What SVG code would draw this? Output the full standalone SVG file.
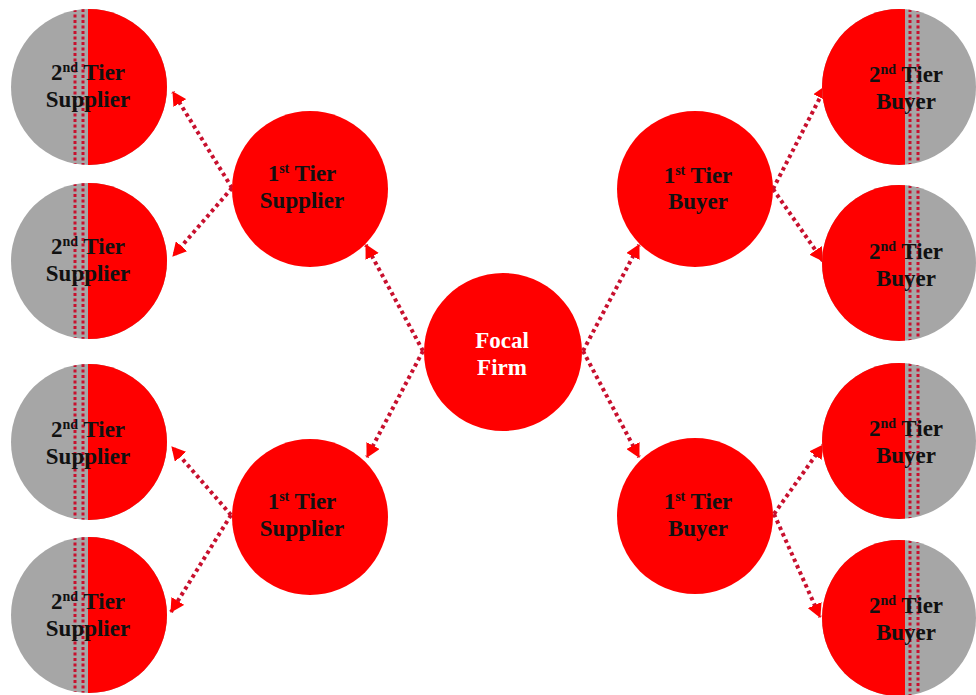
<svg xmlns="http://www.w3.org/2000/svg" width="976" height="695" viewBox="0 0 976 695">
<style>
.red{fill:#ff0000}
.gray{fill:#a6a6a6}
.vdot{stroke:#c8102e;stroke-width:3;stroke-dasharray:3 2.5;fill:none}
.lbl{font-family:"Liberation Serif","Times New Roman",serif;font-weight:bold;font-size:23px;fill:#111;text-anchor:middle}
.wht{fill:#ffffff}
.sup{font-size:14px}
.conn{stroke:#c8102e;stroke-width:4;stroke-dasharray:3.5 3.5;fill:none;marker-end:url(#ah)}
</style>
<defs>
<clipPath id="circ" clipPathUnits="objectBoundingBox"><circle cx="0.5" cy="0.5" r="0.5"/></clipPath>
<marker id="ah" markerUnits="userSpaceOnUse" markerWidth="15" markerHeight="15" viewBox="0 0 15 15" refX="13" refY="7.5" orient="auto"><path d="M0,0 L14,7.5 L0,15 Z" fill="#ff0000"/></marker>
</defs>
<rect width="976" height="695" fill="#ffffff"/>

<g id="connectors">
<line class="conn" x1="232" y1="188" x2="173" y2="92"/>
<line class="conn" x1="232" y1="188" x2="173" y2="256"/>
<line class="conn" x1="423" y1="351" x2="366" y2="245"/>
<line class="conn" x1="423" y1="351" x2="367" y2="457"/>
<line class="conn" x1="583" y1="351" x2="639" y2="245"/>
<line class="conn" x1="583" y1="351" x2="639" y2="457"/>
<line class="conn" x1="773" y1="189" x2="826" y2="86"/>
<line class="conn" x1="773" y1="189" x2="823" y2="261"/>
<line class="conn" x1="231" y1="515" x2="172" y2="447"/>
<line class="conn" x1="231" y1="515" x2="171" y2="612"/>
<line class="conn" x1="774" y1="514" x2="823" y2="445"/>
<line class="conn" x1="774" y1="514" x2="820" y2="617"/>
</g>

<g id="supplier2-1">
<g clip-path="url(#circ)">
<rect class="gray" x="11" y="9" width="156" height="156"/>
<rect class="red" x="88" y="9" width="79" height="156"/>
<line class="vdot" x1="75" y1="9" x2="75" y2="165"/>
<line class="vdot" x1="83" y1="9" x2="83" y2="165"/>
</g>
<text class="lbl" x="88" y="80">2<tspan class="sup" dy="-8">nd</tspan><tspan dy="8"> Tier</tspan></text>
<text class="lbl" x="88" y="107">Supplier</text>
</g>

<g id="supplier2-2">
<g clip-path="url(#circ)">
<rect class="gray" x="11" y="183" width="156" height="156"/>
<rect class="red" x="88" y="183" width="79" height="156"/>
<line class="vdot" x1="75" y1="183" x2="75" y2="339"/>
<line class="vdot" x1="83" y1="183" x2="83" y2="339"/>
</g>
<text class="lbl" x="88" y="254">2<tspan class="sup" dy="-8">nd</tspan><tspan dy="8"> Tier</tspan></text>
<text class="lbl" x="88" y="281">Supplier</text>
</g>

<g id="supplier2-3">
<g clip-path="url(#circ)">
<rect class="gray" x="11" y="364" width="156" height="156"/>
<rect class="red" x="88" y="364" width="79" height="156"/>
<line class="vdot" x1="75" y1="364" x2="75" y2="520"/>
<line class="vdot" x1="83" y1="364" x2="83" y2="520"/>
</g>
<text class="lbl" x="88" y="437">2<tspan class="sup" dy="-8">nd</tspan><tspan dy="8"> Tier</tspan></text>
<text class="lbl" x="88" y="464">Supplier</text>
</g>

<g id="supplier2-4">
<g clip-path="url(#circ)">
<rect class="gray" x="11" y="537" width="156" height="156"/>
<rect class="red" x="88" y="537" width="79" height="156"/>
<line class="vdot" x1="75" y1="537" x2="75" y2="693"/>
<line class="vdot" x1="83" y1="537" x2="83" y2="693"/>
</g>
<text class="lbl" x="88" y="609">2<tspan class="sup" dy="-8">nd</tspan><tspan dy="8"> Tier</tspan></text>
<text class="lbl" x="88" y="636">Supplier</text>
</g>

<g id="supplier1-top">
<circle class="red" cx="310" cy="189" r="78"/>
<text class="lbl" x="302" y="181">1<tspan class="sup" dy="-8">st</tspan><tspan dy="8"> Tier</tspan></text>
<text class="lbl" x="302" y="208">Supplier</text>
</g>

<g id="supplier1-bottom">
<circle class="red" cx="310" cy="517" r="78"/>
<text class="lbl" x="302" y="509">1<tspan class="sup" dy="-8">st</tspan><tspan dy="8"> Tier</tspan></text>
<text class="lbl" x="302" y="536">Supplier</text>
</g>

<g id="focal">
<circle class="red" cx="503" cy="352" r="79"/>
<text class="lbl wht" x="502" y="348">Focal</text>
<text class="lbl wht" x="502" y="375">Firm</text>
</g>

<g id="buyer1-top">
<circle class="red" cx="695" cy="189" r="78"/>
<text class="lbl" x="698" y="183">1<tspan class="sup" dy="-8">st</tspan><tspan dy="8"> Tier</tspan></text>
<text class="lbl" x="698" y="209">Buyer</text>
</g>

<g id="buyer1-bottom">
<circle class="red" cx="695" cy="516" r="78"/>
<text class="lbl" x="698" y="509">1<tspan class="sup" dy="-8">st</tspan><tspan dy="8"> Tier</tspan></text>
<text class="lbl" x="698" y="536">Buyer</text>
</g>

<g id="buyer2-1">
<g clip-path="url(#circ)">
<rect class="gray" x="822" y="9" width="154" height="156"/>
<rect class="red" x="822" y="9" width="83" height="156"/>
<line class="vdot" x1="910" y1="9" x2="910" y2="165"/>
<line class="vdot" x1="918" y1="9" x2="918" y2="165"/>
</g>
<text class="lbl" x="906" y="82">2<tspan class="sup" dy="-8">nd</tspan><tspan dy="8"> Tier</tspan></text>
<text class="lbl" x="906" y="109">Buyer</text>
</g>

<g id="buyer2-2">
<g clip-path="url(#circ)">
<rect class="gray" x="822" y="185" width="154" height="156"/>
<rect class="red" x="822" y="185" width="83" height="156"/>
<line class="vdot" x1="910" y1="185" x2="910" y2="341"/>
<line class="vdot" x1="918" y1="185" x2="918" y2="341"/>
</g>
<text class="lbl" x="906" y="259">2<tspan class="sup" dy="-8">nd</tspan><tspan dy="8"> Tier</tspan></text>
<text class="lbl" x="906" y="286">Buyer</text>
</g>

<g id="buyer2-3">
<g clip-path="url(#circ)">
<rect class="gray" x="822" y="363" width="154" height="156"/>
<rect class="red" x="822" y="363" width="83" height="156"/>
<line class="vdot" x1="910" y1="363" x2="910" y2="519"/>
<line class="vdot" x1="918" y1="363" x2="918" y2="519"/>
</g>
<text class="lbl" x="906" y="436">2<tspan class="sup" dy="-8">nd</tspan><tspan dy="8"> Tier</tspan></text>
<text class="lbl" x="906" y="463">Buyer</text>
</g>

<g id="buyer2-4">
<g clip-path="url(#circ)">
<rect class="gray" x="822" y="540" width="154" height="156"/>
<rect class="red" x="822" y="540" width="83" height="156"/>
<line class="vdot" x1="910" y1="540" x2="910" y2="696"/>
<line class="vdot" x1="918" y1="540" x2="918" y2="696"/>
</g>
<text class="lbl" x="906" y="613">2<tspan class="sup" dy="-8">nd</tspan><tspan dy="8"> Tier</tspan></text>
<text class="lbl" x="906" y="640">Buyer</text>
</g>
</svg>
